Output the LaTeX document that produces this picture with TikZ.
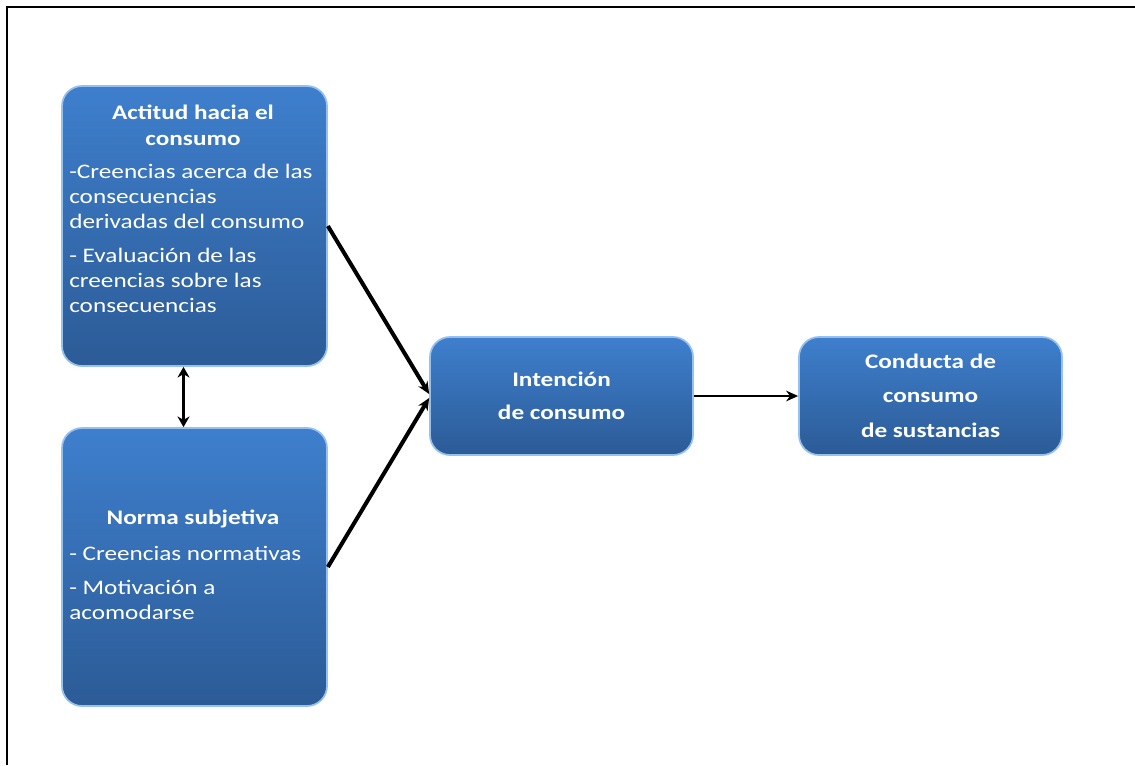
\documentclass[tikz,border=0pt]{standalone}
\usepackage{fontspec}
\setmainfont{Carlito}[FakeStretch=1.22]
\usetikzlibrary{arrows.meta}
\definecolor{boxtop}{RGB}{62,127,205}
\definecolor{boxbot}{RGB}{44,91,150}
\definecolor{boxedge}{RGB}{150,192,238}
\begin{document}
\begin{tikzpicture}[x=0.75pt,y=-0.75pt,
  box/.style={draw=boxedge, line width=1.3pt, rounded corners=15pt,
    top color=boxtop, bottom color=boxbot, inner sep=0pt},
  ttl/.style={text=white, align=center, inner sep=0pt, font=\bfseries\fontsize{15.5}{19.5}\selectfont},
  bdy/.style={text=white, align=left, anchor=west, inner sep=0pt, font=\fontsize{15.5}{18.75}\selectfont},
  conn/.style={line width=3pt, -{Stealth[length=9pt,width=8pt]}},
]
\useasboundingbox (0,0) rectangle (1135,765);
\draw[line width=2pt] (7,765) -- (7,7) -- (1135,7);

\node[box, minimum width=198.75pt, minimum height=210pt] (A) at (194.5,226) {};
\node[box, minimum width=198.75pt, minimum height=208.5pt] (B) at (194.5,567) {};
\node[box, minimum width=197.25pt, minimum height=88.5pt] (C) at (561.5,396) {};
\node[box, minimum width=197.25pt, minimum height=88.5pt] (D) at (930.5,396) {};

\node[ttl] (At) at (193,125) {Actitud hacia el\\consumo};
\node[bdy] (A1) at (69,196) {-Creencias acerca de las\\consecuencias\\derivadas del consumo};
\node[bdy] (A2) at (69,280) {- Evaluación de las\\creencias sobre las\\consecuencias};

\node[ttl] (Bt) at (193,519) {Norma subjetiva};
\node[bdy] (B1) at (69,553) {- Creencias normativas};
\node[bdy] (B2) at (69,600) {- Motivación a\\acomodarse};

\node[ttl, font=\bfseries\fontsize{15.5}{24.75}\selectfont] (Ct) at (561.5,395.5) {Intención\\de consumo};
\node[ttl, font=\bfseries\fontsize{15.5}{26}\selectfont] (Dt) at (930.5,395.5) {Conducta de\\consumo\\de sustancias};

\draw[conn] (A.east) -- ([yshift=1.5pt]C.west);
\draw[conn] (B.east) -- ([yshift=-1.5pt]C.west);
\draw[line width=2.2pt, -{Stealth[length=9pt,width=8pt]}] (C.east) -- (D.west);
\draw[line width=2.5pt, {Stealth[length=8pt,width=9pt]}-{Stealth[length=8pt,width=9pt]}] ([xshift=-8.25pt]A.south) -- ([xshift=-8.25pt]B.north);
\end{tikzpicture}
\end{document}
